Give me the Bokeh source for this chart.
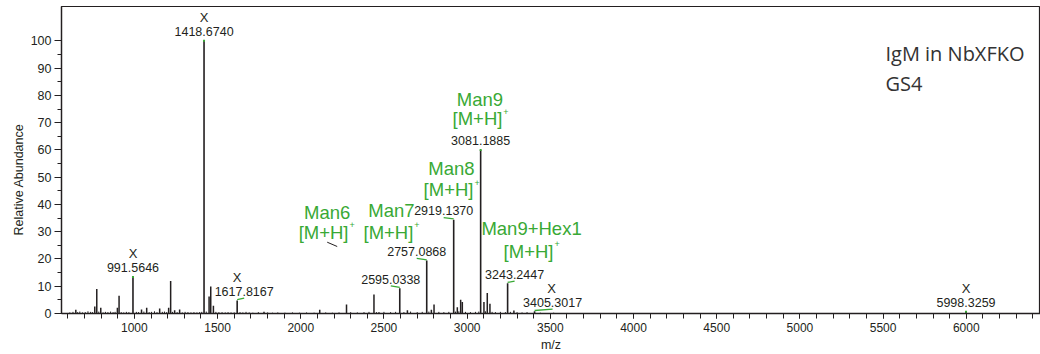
import numpy as np
from bokeh.plotting import figure
from bokeh.models import Range1d, FixedTicker, Label, ColumnDataSource, Title
from bokeh.embed import file_html
from bokeh.resources import INLINE
from bokeh.core.properties import value

# ---------------- data ----------------
# labelled peaks (m/z, relative abundance)
label_mz = [991.5646, 1418.6740, 1617.8167, 2595.0338, 2757.0868, 2919.1370,
            3081.1885, 3243.2447, 3405.3017, 5998.3259]
label_int = [13.4, 100.0, 4.8, 9.3, 19.4, 34.4, 60.0, 11.1, 0.8, 0.6]
label_text = ["991.5646", "1418.6740", "1617.8167", "2595.0338", "2757.0868",
              "2919.1370", "3081.1885", "3243.2447", "3405.3017", "5998.3259"]
contaminant = [True, True, True, False, False, False, False, False, True, True]

# other visible peaks
peak_mz = [648, 762, 774, 798, 898, 908, 1043, 1074, 1152, 1206, 1218, 1242,
           1272, 1449, 1459, 1475, 1779, 2114, 2275, 2440, 2470, 2641, 2785,
           2801, 2941, 2961, 2971, 3101, 3121, 3137, 3281]
peak_int = [1.4, 2.6, 9.0, 2.1, 2.1, 6.5, 1.5, 2.1, 1.8, 2.1, 11.9, 1.2,
            1.5, 6.2, 9.9, 2.8, 0.6, 1.4, 3.3, 7.0, 0.5, 1.2, 1.4,
            3.3, 2.3, 5.0, 4.2, 4.2, 7.5, 3.6, 1.1]

# baseline noise peaks
noise_mz = [612, 631, 659, 672, 688, 705, 721, 737, 748, 786, 812, 826, 841, 857,
            872, 884, 921, 936, 952, 967, 1012, 1025, 1057, 1089, 1103, 1121,
            1136, 1168, 1181, 1194, 1229, 1257, 1288, 1305, 1322, 1340, 1358,
            1376, 1392, 1405, 1432, 1490, 1508, 1527, 1546, 1563, 1581, 1600,
            1635, 1652, 1671, 1690, 1712, 1745, 1801, 1830, 1862, 1905, 1950,
            1992, 2035, 2080, 2150, 2190, 2230, 2300, 2340, 2380, 2410, 2455,
            2500, 2540, 2570, 2620, 2660, 2700, 2730, 2770, 2830, 2860, 2890,
            2930, 2950, 2990, 3020, 3050, 3070, 3110, 3150, 3170, 3200, 3230,
            3260, 3300, 3330, 3360, 3440, 3520, 3600]
noise_int = [0.4, 0.6, 0.5, 0.7, 0.4, 0.5, 0.8, 0.6, 0.5, 0.7, 0.4, 0.6, 0.5, 0.7,
             0.5, 0.6, 0.5, 0.4, 0.6, 0.5, 0.6, 0.5, 0.7, 0.5, 0.6, 0.8,
             0.5, 0.6, 0.7, 0.5, 0.6, 0.5, 0.4, 0.6, 0.5, 0.4, 0.5,
             0.4, 0.5, 0.6, 0.7, 0.6, 0.5, 0.5, 0.4, 0.5, 0.4, 0.4,
             0.5, 0.4, 0.6, 0.4, 0.3, 0.5, 0.4, 0.3, 0.4, 0.3, 0.4,
             0.3, 0.4, 0.3, 0.4, 0.3, 0.4, 0.5, 0.4, 0.5, 0.6, 0.5,
             0.6, 0.5, 0.6, 0.5, 0.7, 0.5, 0.6, 0.7, 0.6, 0.5, 0.6,
             0.7, 0.8, 0.6, 0.5, 0.6, 0.7, 0.8, 0.6, 0.5, 0.6, 0.5,
             0.6, 0.5, 0.4, 0.5, 0.3, 0.3, 0.2]

# glycan annotations
glycan_names = ["Man6", "Man7", "Man8", "Man9", "Man9+Hex1"]
glycan_x = [2159, 2545, 2906, 3077, 3387]
glycan_y = [37.15, 37.8, 53.1, 78.5, 31.1]
ion_x = [2137, 2527, 2888, 3062, 3369]
ion_y = [29.8, 29.8, 45.4, 71.5, 22.85]

x_ticks = [1000, 1500, 2000, 2500, 3000, 3500, 4000, 4500, 5000, 5500, 6000]
x_minor = list(range(600, 6401, 100))
y_ticks = [0, 10, 20, 30, 40, 50, 60, 70, 80, 90, 100]
y_minor = [5, 15, 25, 35, 45, 55, 65, 75, 85, 95]

# ---------------- style / layout ----------------
INK = "#231f20"
GREEN = "#39a935"
FONT = "Liberation Sans"
W, H = 1040, 354
BL, BR, BT, BB = 61, 0, 6, 41
X0, X1 = 562, 6446
Y0, Y1 = 0, 112.6
kx = (W - BL - BR) / (X1 - X0)  # px per m/z unit

# per-label horizontal offsets (px) for number label and the X marker
label_dx = [0, 0, 7, -9, -10, -10, 0, 7, 18, 0]
x_dx = [0, 0, 0, 0, 0, 0, 0, 0, 17, 0]

p = figure(width=W, height=H, x_range=Range1d(X0, X1), y_range=Range1d(Y0, Y1),
           output_backend="svg", toolbar_location=None,
           min_border_left=BL, min_border_right=BR, min_border_top=BT,
           min_border_bottom=BB)
p.grid.visible = False
p.background_fill_color = "white"
p.border_fill_color = "white"
p.outline_line_color = INK
p.outline_line_width = 1.2

for ax in (p.xaxis[0], p.yaxis[0]):
    ax.axis_line_color = INK
    ax.axis_line_width = 1.3
    ax.major_tick_line_color = INK
    ax.minor_tick_line_color = INK
    ax.major_tick_in = 0
    ax.minor_tick_in = 0
    ax.major_label_text_font = FONT
    ax.major_label_text_color = INK

p.xaxis.ticker = FixedTicker(ticks=x_ticks, minor_ticks=x_minor)
p.xaxis.major_tick_out = 5
p.xaxis.minor_tick_out = 5
p.xaxis.major_label_text_font_size = "12px"
p.xaxis.major_label_standoff = 4
p.xaxis.axis_label = "m/z"
p.xaxis.axis_label_text_font = FONT
p.xaxis.axis_label_text_font_size = "12.5px"
p.xaxis.axis_label_text_font_style = "normal"
p.xaxis.axis_label_text_color = INK
p.xaxis.axis_label_standoff = 3

p.yaxis.ticker = FixedTicker(ticks=y_ticks, minor_ticks=y_minor)
p.yaxis.major_tick_out = 7
p.yaxis.minor_tick_out = 4
p.yaxis.major_label_text_font_size = "12.5px"
p.yaxis.major_label_standoff = 3

# y-axis title as a left-side title, shifted to match reference placement
p.add_layout(Title(text="Relative Abundance", align="left", offset=78,
                   vertical_align="top", standoff=0, text_font=FONT,
                   text_font_size="12.5px", text_font_style="normal",
                   text_color=INK), "left")

# spectrum sticks
p.segment(x0=noise_mz, y0=[0] * len(noise_mz), x1=noise_mz, y1=noise_int,
          line_color=INK, line_width=1.0)
p.segment(x0=peak_mz, y0=[0] * len(peak_mz), x1=peak_mz, y1=peak_int,
          line_color=INK, line_width=1.5)
p.segment(x0=label_mz, y0=[0] * len(label_mz), x1=label_mz, y1=label_int,
          line_color=INK, line_width=1.6)

# green leader marks at labelled peak tops
lead_idx = [i for i, d in enumerate(label_dx) if d != 0]
p.segment(x0=[label_mz[i] for i in lead_idx], y0=[label_int[i] + 0.3 for i in lead_idx],
          x1=[label_mz[i] + label_dx[i] / kx for i in lead_idx],
          y1=[label_int[i] + 0.8 for i in lead_idx],
          line_color=GREEN, line_width=1.3)
top_idx = [i for i, d in enumerate(label_dx) if d == 0]
p.scatter(x=[label_mz[i] for i in top_idx], y=[label_int[i] for i in top_idx],
          marker="square", size=2, fill_color=GREEN, line_color=None)

# peak number labels
src = ColumnDataSource(dict(x=label_mz, y=label_int, t=label_text,
                            dx=label_dx))
p.text(x="x", y="y", text="t", source=src, x_offset="dx", y_offset=-9,
       text_align="center", text_baseline="middle", text_font=value(FONT),
       text_font_size="12.5px", text_color=INK)

ci = [i for i, c in enumerate(contaminant) if c]
srcx = ColumnDataSource(dict(x=[label_mz[i] for i in ci], y=[label_int[i] for i in ci],
                             dx=[x_dx[i] for i in ci], t=["X"] * len(ci)))
p.text(x="x", y="y", text="t", source=srcx, x_offset="dx", y_offset=-23,
       text_align="center", text_baseline="middle", text_font=value(FONT),
       text_font_size="13px", text_color=INK)

# glycan annotations
p.text(x=glycan_x, y=glycan_y, text=glycan_names, text_align="center",
       text_baseline="middle", text_font=value(FONT), text_font_size="18.5px",
       text_color=GREEN)
p.text(x=ion_x, y=ion_y, text=["[M+H]"] * len(ion_x), text_align="center",
       text_baseline="middle", text_font=value(FONT), text_font_size="18.5px",
       text_color=GREEN)
p.text(x=ion_x, y=ion_y, text=["+"] * len(ion_x), x_offset=28.5, y_offset=-7,
       text_align="center", text_baseline="middle", text_font=value(FONT),
       text_font_size="9px", text_color=GREEN)

# small black leader near Man6
p.segment(x0=[2159], y0=[26.15], x1=[2219], y1=[24.57], line_color=INK,
          line_width=1.0)

# sample title
p.add_layout(Label(x=5514, y=95.25, text="IgM in NbXFKO", text_font="Open Sans",
                   text_font_size="20px", text_color="#333333",
                   text_baseline="middle", text_align="left"))
p.add_layout(Label(x=5514, y=84.25, text="GS4", text_font="Open Sans",
                   text_font_size="20px", text_color="#333333",
                   text_baseline="middle", text_align="left"))

open("out.html", "w").write(file_html(p, INLINE))
